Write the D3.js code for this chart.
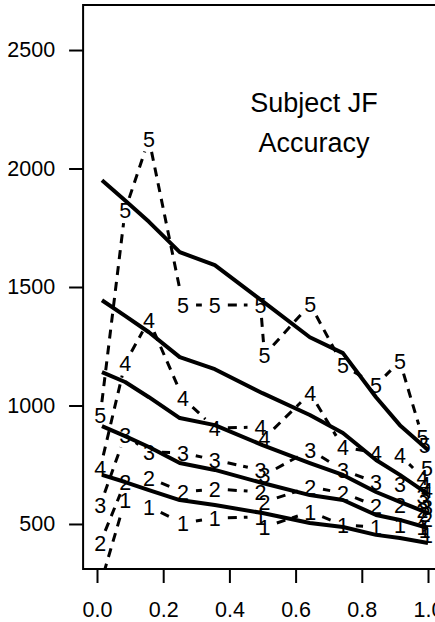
<!DOCTYPE html>
<html>
<head>
<meta charset="utf-8">
<script src="https://cdn.jsdelivr.net/npm/d3@7/dist/d3.min.js"></script>
<style>
body { margin: 0; background: #fff; }
text { font-family: "Liberation Sans", Arial, Helvetica, sans-serif; }
</style>
</head>
<body>
<div id="chart"></div>
<script>
// response proportion for each condition (errors left, corrects right)
var probs = [0.01, 0.085, 0.157, 0.26, 0.356, 0.494, 0.506, 0.644, 0.743, 0.843, 0.915, 0.983, 0.99, 0.997];
// observed RT quantiles, 1 = .1 quantile ... 5 = .9 quantile
var q1 = [243, 601, 572, 504, 525, 530, 487, 551, 496, 487, 496, 487, 475, 454];
var q2 = [420, 677, 694, 635, 648, 635, 593, 656, 631, 576, 580, 559, 542, 521];
var q3 = [580, 875, 804, 800, 770, 728, 707, 812, 728, 675, 668, 618, 597, 572];
var q4 = [736, 1179, 1360, 1031, 905, 909, 863, 1052, 825, 800, 791, 698, 669, 643];
var q5 = [960, 1824, 2124, 1424, 1424, 1424, 1213, 1427, 1170, 1086, 1187, 867, 833, 736];

// model predictions
var predX = [0.015, 0.085, 0.157, 0.25, 0.356, 0.5, 0.643, 0.743, 0.843, 0.915, 1.0];
var p1 = [707, 677, 643, 601, 580, 546, 504, 487, 454, 441, 420];
var p2 = [913, 871, 825, 757, 728, 673, 622, 601, 538, 517, 483];
var p3 = [1141, 1099, 1035, 947, 917, 833, 757, 707, 635, 593, 546];
var p4 = [1444, 1378, 1309, 1204, 1153, 1052, 960, 884, 770, 707, 626];
var p5 = [1950, 1865, 1775, 1647, 1592, 1440, 1288, 1221, 1035, 917, 812];

var yTicks = [500, 1000, 1500, 2000, 2500];
var xTicks = [0, 0.2, 0.4, 0.6, 0.8, 1.0];
var title = ["Subject JF", "Accuracy"];

var W = 435, H = 622;
var fs = 21.5;

var svg = d3.select("#chart").append("svg")
    .attr("width", W)
    .attr("height", H);

var x = d3.scaleLinear().domain([0, 1]).range([97, 428]);
var y = d3.scaleLinear().domain([310, 2690]).range([569, 5]);

var boxL = x(-0.042), boxR = x(1.042), boxT = y(2690), boxB = y(310);

svg.append("defs").append("clipPath").attr("id", "plot")
    .append("rect")
    .attr("x", boxL).attr("y", boxT)
    .attr("width", boxR - boxL).attr("height", boxB - boxT);

// axes
var yAxis = d3.axisLeft(y).tickValues(yTicks).tickSize(14).tickPadding(14)
    .tickFormat(d3.format("d"));
var xAxis = d3.axisBottom(x).tickValues(xTicks).tickSize(14).tickPadding(19)
    .tickFormat(d3.format(".1f"));

var gy = svg.append("g").attr("transform", "translate(" + boxL + ",0)").call(yAxis);
var gx = svg.append("g").attr("transform", "translate(0," + boxB + ")").call(xAxis);

[gy, gx].forEach(function(g){
    g.select(".domain").remove();
    g.selectAll(".tick line").attr("stroke", "#000").attr("stroke-width", 2);
    g.selectAll(".tick text").attr("fill", "#000").style("font-size", fs + "px");
});

// box
svg.append("rect")
    .attr("x", boxL).attr("y", boxT)
    .attr("width", boxR - boxL).attr("height", boxB - boxT)
    .attr("fill", "none").attr("stroke", "#000").attr("stroke-width", 2);

var plot = svg.append("g").attr("clip-path", "url(#plot)");

// predicted (solid)
var line = d3.line()
    .x(function(d){ return x(d[0]); })
    .y(function(d){ return y(d[1]); });

[p1, p2, p3, p4, p5].forEach(function(p){
    plot.append("path")
        .datum(predX.map(function(v, i){ return [v, p[i]]; }))
        .attr("d", line)
        .attr("fill", "none")
        .attr("stroke", "#000")
        .attr("stroke-width", 4)
        .attr("stroke-linejoin", "round");
});

// observed (type "b": numbers with gapped dashed segments)
var gap = 13;
[q1, q2, q3, q4, q5].forEach(function(q, k){
    var pts = probs.map(function(v, i){ return [x(v), y(q[i])]; });
    for (var i = 0; i < pts.length - 1; i++) {
        var a = pts[i], b = pts[i + 1];
        var dx = b[0] - a[0], dy = b[1] - a[1];
        var L = Math.sqrt(dx * dx + dy * dy);
        if (L <= 2 * gap) continue;
        var ux = dx / L, uy = dy / L;
        plot.append("line")
            .attr("x1", a[0] + ux * gap).attr("y1", a[1] + uy * gap)
            .attr("x2", b[0] - ux * gap).attr("y2", b[1] - uy * gap)
            .attr("stroke", "#000")
            .attr("stroke-width", 3)
            .attr("stroke-dasharray", "9,7");
    }
    plot.selectAll(".q" + k)
        .data(pts)
        .enter().append("text")
        .attr("class", "q" + k)
        .attr("x", function(d){ return d[0]; })
        .attr("y", function(d){ return d[1]; })
        .attr("dy", "0.36em")
        .attr("text-anchor", "middle")
        .style("font-size", fs + "px")
        .text(k + 1);
});

svg.selectAll(".title")
    .data(title)
    .enter().append("text")
    .attr("class", "title")
    .attr("x", 314)
    .attr("y", function(d, i){ return 112 + i * 40; })
    .attr("text-anchor", "middle")
    .style("font-size", "27px")
    .text(function(d){ return d; });
</script>
</body>
</html>
